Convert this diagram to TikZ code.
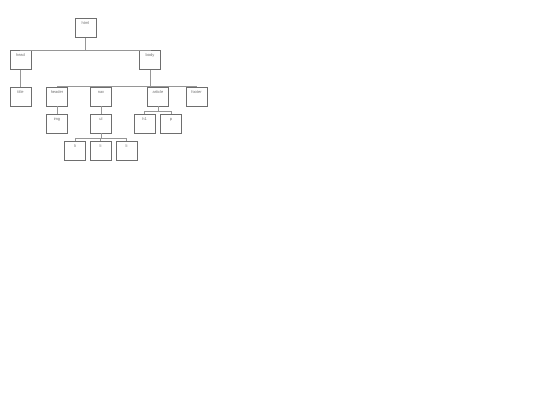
\documentclass[tikz,border=0pt]{standalone}
\usepackage{fontspec}
\setmainfont{Liberation Sans}
\usepackage{xcolor}
\definecolor{boxgray}{RGB}{110,110,110}
\definecolor{linegray}{RGB}{150,150,150}

\begin{document}
\begin{tikzpicture}[x=1pt,y=-1pt,
	tag/.style={draw=boxgray,line width=0.5pt,minimum width=21pt,inner sep=1pt,
		text height=5pt,text depth=12pt,text=boxgray,font=\fontsize{4}{5}\selectfont},
	wire/.style={draw=linegray,line width=0.5pt}]
	\useasboundingbox (0,0) rectangle (540,405);
	% Tags
	\foreach \name/\txt/\x/\y in {html/html/85.5/28, head/head/20.5/60, body/body/150/60,
		title/title/20.5/96.5, header/header/57/96.5, nav/nav/101/96.5, article/article/158/96.5, footer/footer/196.5/96.5,
		img/img/57/123.5, ul/ul/101/123.5, hone/h1/144.5/123.5, para/p/171/123.5,
		lia/li/75/150.5, lib/li/100.5/150.5, lic/li/126.5/150.5} {
		\node[tag] (\name) at (\x,\y) {\txt};
	}
	
	% Links
	\foreach \kid in {head,body} {
		\draw[wire] (html.south) -- ++(0,12) -| (\kid.north);
	}
	\foreach \kid in {header,nav,article,footer} {
		\draw[wire] (body.south) -- ++(0,16) -| (\kid.north);
	}
	\foreach \kid in {hone,para} {
		\draw[wire] (article.south) -- ++(0,5) -| (\kid.north);
	}
	\foreach \kid in {lia,lib,lic} {
		\draw[wire] (ul.south) -- ++(0,5) -| (\kid.north);
	}
	\draw[wire] (head) -- (title);
	\draw[wire] (header) -- (img);
	\draw[wire] (nav) -- (ul);
\end{tikzpicture}
\end{document}
